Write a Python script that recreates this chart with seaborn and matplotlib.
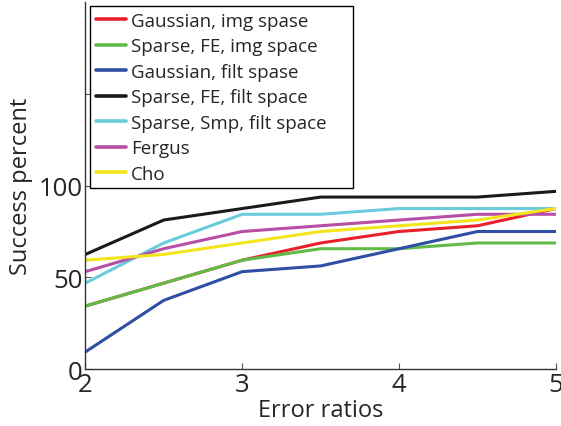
import pandas as pd
import matplotlib
matplotlib.use("Agg")
import matplotlib.pyplot as plt
import seaborn as sns

# error ratios on the x axis
ratios = [2, 2.5, 3, 3.5, 4, 4.5, 5]

# success percent per method
gauss_img = [34.375, 46.875, 59.375, 68.75, 75.0, 78.125, 87.5]
sparse_fe_img = [34.375, 46.875, 59.375, 65.625, 65.625, 68.75, 68.75]
gauss_filt = [9.375, 37.5, 53.125, 56.25, 65.625, 75.0, 75.0]
sparse_fe_filt = [62.5, 81.25, 87.5, 93.75, 93.75, 93.75, 96.875]
sparse_smp_filt = [46.875, 68.75, 84.375, 84.375, 87.5, 87.5, 87.5]
fergus = [53.125, 65.625, 75.0, 78.125, 81.25, 84.375, 84.375]
cho = [59.375, 62.5, 68.75, 75.0, 78.125, 81.25, 87.5]

methods = ["Gaussian, img spase", "Sparse, FE, img space", "Gaussian, filt spase",
           "Sparse, FE, filt space", "Sparse, Smp, filt space", "Fergus", "Cho"]
series = [gauss_img, sparse_fe_img, gauss_filt, sparse_fe_filt,
          sparse_smp_filt, fergus, cho]
colors = ["#e8202a", "#62bb46", "#2e4fa3", "#1a1a1a", "#6acbdc", "#b64fa5", "#f2e51b"]

rows = []
for name, vals in zip(methods, series):
    for r, v in zip(ratios, vals):
        rows.append({"ratio": r, "success": v, "method": name})
df = pd.DataFrame(rows)

sns.set_style("white")
plt.rcParams["font.family"] = ["Open Sans", "DejaVu Sans"]
plt.rcParams["xtick.direction"] = "in"
plt.rcParams["ytick.direction"] = "in"

fig = plt.figure(figsize=(5.61, 4.27), dpi=100)
ax = fig.add_axes([0.152, 0.133, 0.839, 0.86])

sns.lineplot(data=df, x="ratio", y="success", hue="method", hue_order=methods,
             palette=colors, linewidth=2.2, ax=ax)

ax.set_xlim(2, 5)
ax.set_ylim(0, 200)
ax.set_xticks([2, 3, 4, 5])
ax.set_yticks([0, 50, 100, 150])
ax.set_yticklabels(["0", "50", "100", ""])
ax.tick_params(labelsize=18.5, length=4, width=0.8, color="#555555",
               left=True, bottom=True, pad=2)
ax.set_xlabel("Error ratios", fontsize=17, labelpad=1)
ax.set_ylabel("Success percent", fontsize=17, labelpad=4)
sns.despine(ax=ax)
for s in ["left", "bottom"]:
    ax.spines[s].set_color("#333333")
    ax.spines[s].set_linewidth(1.0)

leg = ax.legend(loc="upper left", bbox_to_anchor=(0.011, 0.494, 0.558, 0.495),
                mode="expand", fontsize=13.5,
                handlelength=1.6, handletextpad=0.25, labelspacing=0.4,
                borderpad=0.3, borderaxespad=0, fancybox=False,
                framealpha=1, edgecolor="black")
leg.get_frame().set_linewidth(1.0)
for line in leg.get_lines():
    line.set_linewidth(2.6)

fig.savefig("out.png", dpi=100)
